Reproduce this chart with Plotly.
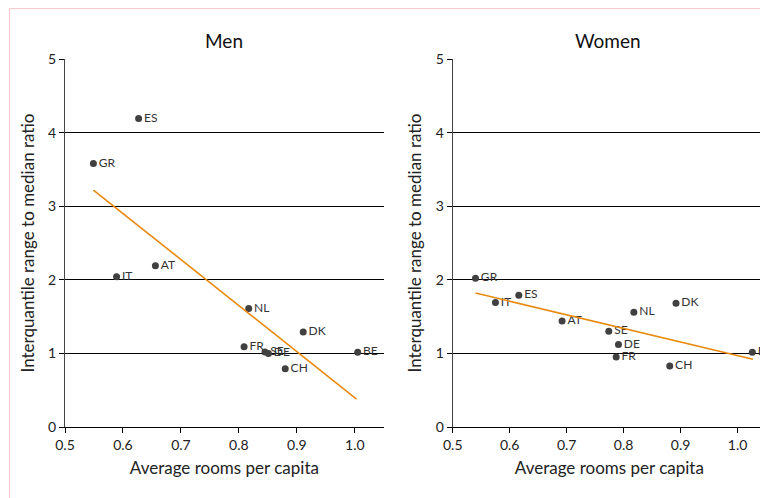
import plotly.graph_objects as go
from plotly.subplots import make_subplots

# ---- data ----
men_countries = ["ES", "GR", "AT", "IT", "NL", "DK", "FR", "SE", "DE", "BE", "CH"]
men_rooms = [0.627, 0.549, 0.656, 0.589, 0.817, 0.911, 0.809, 0.845, 0.851, 1.005, 0.880]
men_ratio = [4.19, 3.58, 2.19, 2.04, 1.61, 1.29, 1.09, 1.02, 1.00, 1.015, 0.79]
men_trend_x = [0.549, 1.003]
men_trend_y = [3.22, 0.38]

women_countries = ["GR", "ES", "IT", "AT", "SE", "DE", "FR", "NL", "DK", "CH", "BE"]
women_rooms = [0.540, 0.616, 0.575, 0.692, 0.774, 0.791, 0.787, 0.818, 0.892, 0.881, 1.026]
women_ratio = [2.02, 1.79, 1.69, 1.44, 1.30, 1.12, 0.95, 1.56, 1.68, 0.83, 1.015]
women_trend_x = [0.540, 1.027]
women_trend_y = [1.82, 0.92]

x_ticks = [0.5, 0.6, 0.7, 0.8, 0.9, 1.0]
x_tick_labels = ["0.5", "0.6", "0.7", "0.8", "0.9", "1.0"]
y_ticks = [0, 1, 2, 3, 4, 5]
panel_titles = ["Men", "Women"]
x_title = "Average rooms per capita"
y_title = "Interquantile range to median ratio"

FONT = "Lato, 'Open Sans', sans-serif"
DOT = "#404040"
TREND = "#E8890C"

OFF = 8  # page body margin
W, H = 760, 490
L, T = 65 - OFF, 59 - OFF
B = H - (427 - OFF)
R = W - (766.5 - OFF)
pw = W - L - R
ph = H - T - B

fig = make_subplots(rows=1, cols=2, horizontal_spacing=0.05)

panels = [
    (men_countries, men_rooms, men_ratio, men_trend_x, men_trend_y),
    (women_countries, women_rooms, women_ratio, women_trend_x, women_trend_y),
]
for i, (c, xs, ys, tx, ty) in enumerate(panels, start=1):
    fig.add_trace(go.Scatter(x=xs, y=ys, mode="markers+text", text=c,
                             textposition="middle right",
                             textfont=dict(family=FONT, size=12, color="#333333"),
                             marker=dict(color=DOT, size=7),
                             showlegend=False, hoverinfo="skip"), row=1, col=i)
    fig.add_trace(go.Scatter(x=tx, y=ty, mode="lines",
                             line=dict(color=TREND, width=1.6),
                             showlegend=False, hoverinfo="skip"), row=1, col=i)


def px_x(p):
    return (p - OFF - L) / pw


def px_y(p):
    return (H - B - (p - OFF)) / ph


left_dom = [0, px_x(384)]
right_dom = [px_x(453), 1]

axis_common_x = dict(range=[0.5, 1.05], tickvals=x_ticks, ticktext=x_tick_labels,
                     showgrid=False, zeroline=False, showline=True, linecolor="#000000",
                     linewidth=1.2, ticks="outside", ticklen=5, tickcolor="#000000",
                     tickfont=dict(family=FONT, size=14, color="#222222"),
                     title=dict(text=x_title, font=dict(family=FONT, size=17, color="#222222"),
                                standoff=10))
axis_common_y = dict(range=[0, 5], tickvals=y_ticks, showgrid=True, gridcolor="#000000",
                     gridwidth=1.2, zeroline=False, showline=True, linecolor="#444444",
                     linewidth=1.2, ticks="outside", ticklen=5, tickcolor="#000000",
                     tickfont=dict(family=FONT, size=14, color="#222222"),
                     title=dict(text=y_title, font=dict(family=FONT, size=17, color="#222222"),
                                standoff=9))

fig.update_xaxes(domain=left_dom, row=1, col=1, **axis_common_x)
fig.update_xaxes(domain=right_dom, row=1, col=2, **axis_common_x)
fig.update_yaxes(row=1, col=1, **axis_common_y)
fig.update_yaxes(row=1, col=2, **axis_common_y)

for title, cx in zip(panel_titles, [224, 608]):
    fig.add_annotation(text=title, x=px_x(cx), y=px_y(40), xref="paper", yref="paper",
                       showarrow=False, xanchor="center", yanchor="middle",
                       font=dict(family=FONT, size=19, color="#111111"))

fig.add_shape(type="rect", xref="paper", yref="paper",
              x0=px_x(9.5), y0=px_y(8.6), x1=px_x(800), y1=px_y(540),
              line=dict(color="#F7C6CB", width=1), fillcolor="rgba(0,0,0,0)", layer="below")

fig.update_layout(width=W, height=H, margin=dict(l=L, r=R, t=T, b=B),
                  paper_bgcolor="white", plot_bgcolor="white",
                  font=dict(family=FONT))

fig.write_html("out.html", post_script="document.body.style.overflow='hidden';")
